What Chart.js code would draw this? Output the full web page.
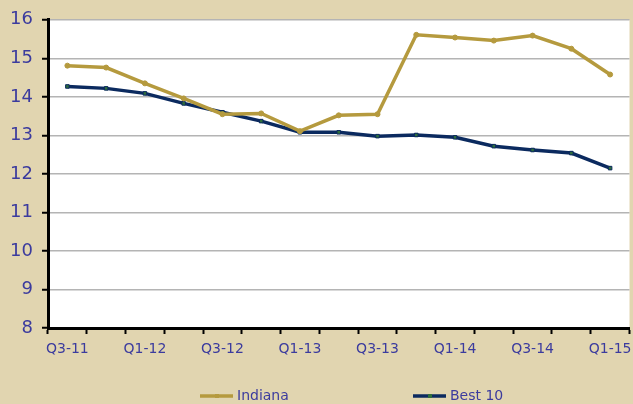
<!DOCTYPE html>
<html>
<head>
<meta charset="utf-8">
<script src="https://cdn.jsdelivr.net/npm/chart.js@4/dist/chart.umd.min.js"></script>
<style>
  html, body { margin: 0; padding: 0; background: #e1d5b0; }
  #wrap { width: 633px; height: 404px; }
</style>
</head>
<body>
<div id="wrap"><canvas id="chart" width="633" height="404"></canvas></div>
<script>
var quarters = ["Q3-11", "Q4-11", "Q1-12", "Q2-12", "Q3-12", "Q4-12", "Q1-13", "Q2-13",
                "Q3-13", "Q4-13", "Q1-14", "Q2-14", "Q3-14", "Q4-14", "Q1-15"];
var indiana = [14.81, 14.76, 14.35, 13.96, 13.55, 13.57, 13.11, 13.52,
               13.55, 15.61, 15.54, 15.46, 15.59, 15.25, 14.58];
var best10 = [14.27, 14.22, 14.09, 13.83, 13.60, 13.37, 13.08, 13.08,
              12.98, 13.01, 12.95, 12.72, 12.62, 12.54, 12.15];

var GOLD = "#b59a3e", NAVY = "#0b2a5f", TEXT = "#3b3b9e";
var FONT = "DejaVu Sans";

var plotBg = {
    id: "plotBg",
    beforeDraw: function (chart) {
        var a = chart.chartArea, ctx = chart.ctx;
        ctx.save();
        ctx.fillStyle = "#ffffff";
        ctx.fillRect(a.left, a.top, a.right - a.left, a.bottom - a.top);
        ctx.restore();
    }
};

// legend drawn by hand: line with a small marker, then the series name
var lineLegend = {
    id: "lineLegend",
    afterDraw: function (chart) {
        var ctx = chart.ctx;
        var y = chart.height - 8;
        var x0 = 200, step = 213;
        ctx.save();
        ctx.font = "14px '" + FONT + "'";
        ctx.textBaseline = "middle";
        chart.data.datasets.forEach(function (ds, i) {
            var x = x0 + i * step;
            ctx.strokeStyle = ds.borderColor;
            ctx.lineWidth = 3.5;
            ctx.beginPath(); ctx.moveTo(x, y); ctx.lineTo(x + 33, y); ctx.stroke();
            ctx.fillStyle = ds.pointBackgroundColor;
            ctx.fillRect(x + 15, y - 2, 4, 4);
            ctx.fillStyle = TEXT;
            ctx.fillText(ds.label, x + 37, y);
        });
        ctx.restore();
    }
};

new Chart(document.getElementById("chart"), {
    type: "line",
    data: {
        labels: quarters,
        datasets: [{
            label: "Indiana",
            data: indiana,
            borderColor: GOLD,
            backgroundColor: GOLD,
            borderWidth: 3.5,
            pointRadius: 2.5,
            pointBorderWidth: 1,
            pointBorderColor: GOLD,
            pointBackgroundColor: GOLD,
            pointStyle: "circle",
            tension: 0
        }, {
            label: "Best 10",
            data: best10,
            borderColor: NAVY,
            backgroundColor: NAVY,
            borderWidth: 3.5,
            pointRadius: 2.5,
            pointBorderWidth: 1,
            pointBorderColor: NAVY,
            pointBackgroundColor: "#2f6e3c",
            pointStyle: "rect",
            tension: 0
        }]
    },
    options: {
        responsive: false,
        animation: false,
        layout: { padding: { top: 9, right: 3, left: 0, bottom: 36 } },
        elements: { point: { hoverRadius: 2.5 } },
        plugins: {
            tooltip: { enabled: false },
            legend: { display: false }
        },
        scales: {
            x: {
                offset: true,
                grid: { offset: true, drawOnChartArea: false, tickLength: 6, tickColor: "#000", tickWidth: 2 },
                border: { color: "#000", width: 3 },
                ticks: {
                    color: TEXT,
                    font: { family: FONT, size: 14 },
                    maxRotation: 0,
                    autoSkip: false,
                    padding: 7,
                    callback: function (v, i) { return i % 2 === 0 ? quarters[i] : ""; }
                },
                afterFit: function (s) { s.height = 40; s.paddingLeft = 0; s.paddingRight = 0; }
            },
            y: {
                min: 8, max: 16,
                grid: { color: "#b4b4b4", lineWidth: 1.5, tickColor: "#000", tickLength: 6, tickWidth: 2 },
                border: { color: "#000", width: 3 },
                ticks: {
                    stepSize: 1,
                    color: TEXT,
                    font: { family: FONT, size: 18 },
                    padding: 9
                },
                afterFit: function (s) { s.width = 48; }
            }
        }
    },
    plugins: [plotBg, lineLegend]
});
</script>
</body>
</html>
